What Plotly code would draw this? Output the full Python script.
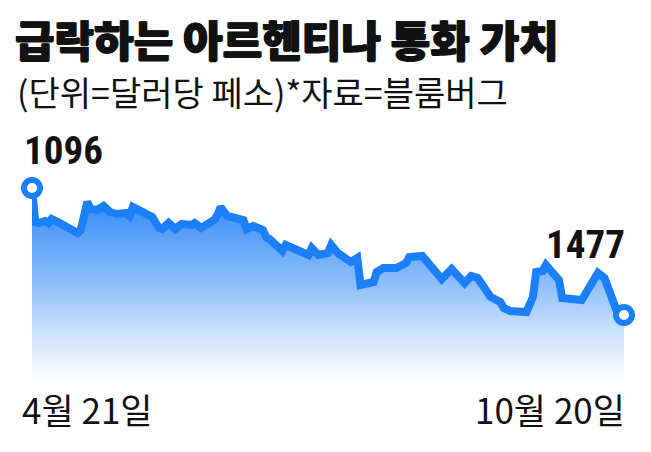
import plotly.graph_objects as go

# peso per US dollar
dates = [
    "2025-04-21", "2025-04-22", "2025-04-23", "2025-04-25", "2025-04-26",
    "2025-04-27", "2025-04-29", "2025-05-05", "2025-05-06", "2025-05-08",
    "2025-05-09", "2025-05-11", "2025-05-13", "2025-05-15", "2025-05-17",
    "2025-05-20", "2025-05-21", "2025-05-22", "2025-05-28", "2025-05-30",
    "2025-05-31", "2025-06-02", "2025-06-04", "2025-06-06", "2025-06-09",
    "2025-06-10", "2025-06-12", "2025-06-16", "2025-06-17", "2025-06-18",
    "2025-06-20", "2025-06-24", "2025-06-25", "2025-06-26", "2025-06-28",
    "2025-07-01", "2025-07-02", "2025-07-03", "2025-07-07", "2025-07-08",
    "2025-07-15", "2025-07-16", "2025-07-18", "2025-07-21", "2025-07-22",
    "2025-07-24", "2025-07-28", "2025-07-30", "2025-07-31", "2025-08-04",
    "2025-08-05", "2025-08-07", "2025-08-11", "2025-08-14", "2025-08-15",
    "2025-08-19", "2025-08-25", "2025-08-28", "2025-09-01", "2025-09-03",
    "2025-09-05", "2025-09-09", "2025-09-12", "2025-09-13", "2025-09-15",
    "2025-09-20", "2025-09-22", "2025-09-23", "2025-09-25", "2025-09-26",
    "2025-09-30", "2025-10-01", "2025-10-07", "2025-10-12", "2025-10-14",
    "2025-10-18", "2025-10-20",
]
peso_per_dollar = [
    1096, 1198, 1201, 1195, 1201,
    1189, 1198, 1231, 1222, 1138,
    1159, 1162, 1150, 1168, 1174,
    1171, 1180, 1153, 1183, 1216,
    1219, 1201, 1219, 1204, 1207,
    1201, 1216, 1192, 1177, 1153,
    1180, 1188, 1192, 1219, 1210,
    1222, 1243, 1249, 1285, 1267,
    1297, 1276, 1297, 1291, 1267,
    1291, 1318, 1306, 1387, 1378,
    1348, 1336, 1336, 1321, 1303,
    1300, 1369, 1339, 1381, 1360,
    1366, 1423, 1438, 1456, 1465,
    1468, 1423, 1348, 1345, 1327,
    1372, 1426, 1432, 1351, 1366,
    1471, 1477,
]

title_text = "급락하는 아르헨티나 통화 가치"
subtitle_text = "(단위=달러당 페소)*자료=블룸버그"
start_label = "4월 21일"
end_label = "10월 20일"

BLUE = "#1a7ff8"
KR_FONT = "Noto Sans CJK KR"
NUM_FONT = "Liberation Sans Narrow, Roboto Condensed, DejaVu Sans Condensed, Arial Narrow, Roboto"

# axis range, bottom of fill first (the axis is reversed)
y_bottom = 1672
y_top = peso_per_dollar[0]

fig = go.Figure()

# invisible baseline so the area can be filled downwards
fig.add_trace(go.Scatter(
    x=dates, y=[y_bottom] * len(dates),
    mode="lines", line=dict(width=0),
    hoverinfo="skip", showlegend=False,
))
fig.add_trace(go.Scatter(
    x=dates, y=peso_per_dollar,
    mode="lines", fill="tonexty",
    fillgradient=dict(
        type="vertical",
        start=y_top, stop=y_bottom,
        colorscale=[
            [0.0, "rgb(40,132,248)"],
            [0.25, "rgb(90,162,250)"],
            [0.5, "rgb(142,191,250)"],
            [0.75, "rgb(202,226,252)"],
            [0.95, "rgb(242,247,254)"],
            [1.0, "rgb(255,255,255)"],
        ],
    ),
    line=dict(color=BLUE, width=8),
    cliponaxis=False, hoverinfo="skip", showlegend=False,
))
# open circles at both ends
fig.add_trace(go.Scatter(
    x=[dates[0], dates[-1]], y=[peso_per_dollar[0], peso_per_dollar[-1]],
    mode="markers",
    marker=dict(size=16, color="white", line=dict(color=BLUE, width=6)),
    cliponaxis=False, hoverinfo="skip", showlegend=False,
))

# dashed guides from the end points down to the date labels
for d, v in ((dates[0], peso_per_dollar[0]), (dates[-1], peso_per_dollar[-1])):
    fig.add_shape(
        type="line", xref="x", yref="y",
        x0=d, x1=d, y0=v, y1=y_bottom,
        line=dict(color="#333333", width=1.5, dash="dash"),
        layer="below",
    )

annotations = [
    dict(text=subtitle_text, xref="paper", yref="paper",
         x=-0.0287, y=1.505, xanchor="left", yanchor="middle",
         showarrow=False, font=dict(family=KR_FONT, size=34, color="#111111")),
    dict(text=f"<b>{peso_per_dollar[0]}</b>", xref="x", yref="y",
         x=dates[0], y=peso_per_dollar[0], xanchor="left", yanchor="middle",
         xshift=-10, yshift=37, showarrow=False,
         font=dict(family=NUM_FONT, size=39, color="#111111")),
    dict(text=f"<b>{peso_per_dollar[-1]}</b>", xref="x", yref="y",
         x=dates[-1], y=peso_per_dollar[-1], xanchor="right", yanchor="middle",
         xshift=3, yshift=70, showarrow=False,
         font=dict(family=NUM_FONT, size=39, color="#111111")),
    dict(text=start_label, xref="x", yref="paper",
         x=dates[0], y=-0.146, xanchor="left", yanchor="middle",
         xshift=-12, showarrow=False,
         font=dict(family=KR_FONT, size=35, color="#111111")),
    dict(text=end_label, xref="x", yref="paper",
         x=dates[-1], y=-0.146, xanchor="right", yanchor="middle",
         xshift=3, showarrow=False,
         font=dict(family=KR_FONT, size=35, color="#111111")),
]

# the page adds an 8px body margin, so the figure is laid out 8px up/left
fig.update_layout(
    width=651, height=452,
    margin=dict(l=24, r=35, t=180, b=80, pad=0),
    paper_bgcolor="white", plot_bgcolor="white",
    title=dict(
        text=title_text,
        xref="container", yref="container",
        x=7 / 651, y=1 - 34 / 452, xanchor="left", yanchor="middle",
        font=dict(family=KR_FONT, size=43, color="#111111", weight=900,
                  shadow="0.8px 0 0 #111111, -0.8px 0 0 #111111, 0 0.6px 0 #111111"),
    ),
    xaxis=dict(range=[dates[0], dates[-1]], visible=False, fixedrange=True),
    yaxis=dict(range=[y_bottom, y_top], visible=False, fixedrange=True),
    annotations=annotations,
    showlegend=False,
)

fig.write_html("out.html")
